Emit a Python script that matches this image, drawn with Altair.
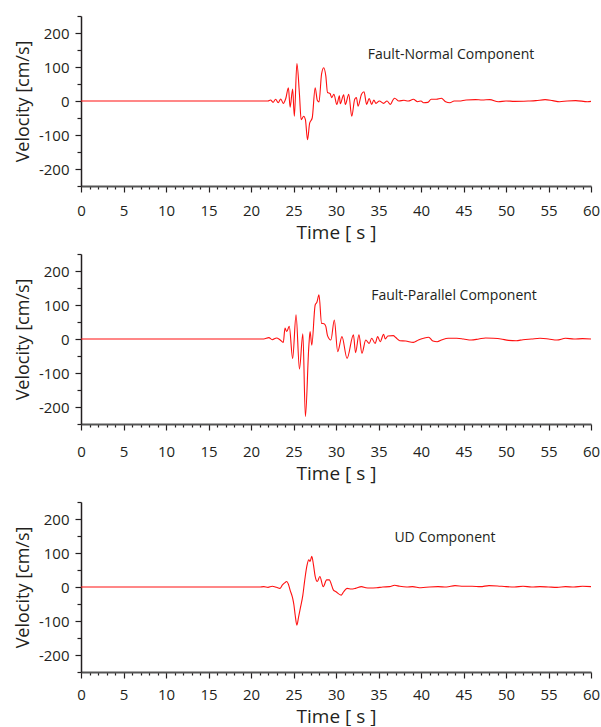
import altair as alt
import pandas as pd

# ---------------- data ----------------
FN_T = [0, 22.0, 22.3, 22.6, 22.9, 23.2, 23.5, 23.8, 24.1, 24.4, 24.6, 24.9, 25.1, 25.4, 25.7,
        25.9, 26.2, 26.4, 26.65, 26.9, 27.2, 27.55, 27.8, 28.0, 28.3, 28.55, 28.8, 29.0, 29.3,
        29.5, 29.75, 30.1, 30.4, 30.5, 30.9, 31.1, 31.5, 31.85, 32.2, 32.4, 32.6, 33.0, 33.3,
        33.6, 33.9, 34.2, 34.45, 34.7, 35.1, 35.6, 36.0, 36.4, 36.7, 36.9, 37.4, 38.0, 38.5,
        39.1, 39.6, 40.0, 40.3, 40.8, 41.2, 41.8, 42.4, 42.9, 43.4, 43.9, 44.5, 45.3, 46.4,
        47.2, 48.1, 49.1, 50.0, 51.0, 52.6, 53.5, 54.6, 55.5, 56.3, 57.2, 58.2, 59.6, 60]
FN_V = [0, 0, 3, -4, 5, -5, 6, -7, 8, 39, -18, 35, -45, 110, 20,
        -55, -45, -55, -114, -65, -50, 39, 2, -3, 79, 98, 74, 25, 22,
        10, 20, -10, 15, -8, 18, -10, 20, -45, 5, 10, -15, 20, 27,
        -10, 7, -10, 3, -7, 0, -7, 0, -10, 3, 8, 0, 2, 0,
        5, -2, 0, -5, -4, 5, 5, 8, -2, -5, 0, 0, 3, 4,
        3, 4, -2, 0, -1, 0, 1, 4, 1, -2, 0, 1, -2, -1]

FP_T = [0, 21.5, 22.1, 22.5, 23.0, 23.4, 23.8, 24.0, 24.2, 24.5, 24.9, 25.3, 25.7, 26.1, 26.4,
        26.8, 26.95, 27.15, 27.55, 27.75, 28.0, 28.3, 28.6, 28.8, 29.0, 29.4, 29.8, 30.2, 30.7,
        31.3, 32.05, 32.3, 32.7, 33.05, 33.5, 33.9, 34.2, 34.6, 34.9, 35.2, 35.6, 35.8, 36.1,
        36.75, 37.0, 37.5, 38.2, 39.1, 39.7, 40.3, 40.9, 41.4, 41.9, 42.5, 43.2, 44.2, 45.0,
        45.9, 46.8, 47.6, 48.5, 49.4, 50.3, 51.2, 52.0, 53.0, 54.0, 55.0, 56.0, 57.0, 58.0,
        59.0, 60]
FP_V = [0, 0, 4, -2, 3, -2, -10, 32, 22, 37, -57, 71, -88, 15, -228,
        -23, 22, -18, 100, 108, 130, 46, 45, 37, 10, -3, 56, -37, 7,
        -57, 12, -40, 12, -42, -3, -13, 2, -13, 7, -8, 14, 0, 9,
        10, 5, -5, -6, -10, -3, 2, 5, -6, -8, -2, 2, 2, 0,
        -3, 0, 3, 2, 0, -4, -5, -2, 0, 2, 0, -3, 2, 0,
        1, 0]

UD_T = [0, 21.0, 21.5, 22.0, 22.5, 23.0, 23.4, 23.7, 24.0, 24.2, 24.4, 24.6, 24.9, 25.05, 25.2,
        25.4, 25.6, 25.8, 26.1, 26.3, 26.6, 26.8, 26.95, 27.15, 27.35, 27.55, 27.8, 28.1, 28.5,
        28.9, 29.2, 29.7, 30.0, 30.6, 30.9, 31.3, 31.8, 32.3, 33.0, 33.5, 34.0, 34.8, 35.5,
        36.3, 36.9, 37.5, 38.3, 39.0, 40.0, 41.0, 42.0, 43.0, 44.0, 45.0, 46.0, 47.0, 48.0,
        49.0, 50.0, 51.0, 52.0, 53.0, 54.0, 55.0, 56.0, 57.0, 58.0, 59.0, 60]
UD_V = [0, 0, 1, -1, 2, -1, -4, 6, 13, 16, 8, -9, -33, -53, -83,
        -112, -88, -63, -24, 16, 65, 80, 75, 90, 65, 31, 16, 31, 1,
        21, 21, -9, -14, -24, -14, -4, -6, -4, 1, -2, -3, -2, 0,
        1, 5, 2, 0, 1, -2, 0, 1, 0, 4, 2, 2, 1, 4,
        3, 1, 0, 2, 0, 1, 0, -1, 1, 0, 2, 1]

LABELS = ["Fault-Normal Component", "Fault-Parallel Component", "UD Component"]
X_TICKS = list(range(0, 61))
Y_TICKS = list(range(-250, 251, 50))
X_TITLE = "Time [ s ]"
Y_TITLE = "Velocity [cm/s]"

TEXT = "#231f20"
FONT = "Open Sans"

W, H = 510, 170


def panel(t, v, label, lx, ly, label_pad):
    df = pd.DataFrame({"t": t, "v": v})
    line = alt.Chart(df).mark_line(color="#ff1010", strokeWidth=1.1, interpolate="monotone").encode(
        x=alt.X("t:Q",
                scale=alt.Scale(domain=[0, 60], nice=False, zero=False),
                axis=alt.Axis(values=X_TICKS, title=X_TITLE,
                              labelExpr="datum.value % 5 === 0 ? '' + datum.value : ''",
                              tickSize={"condition": {"test": "datum.value % 5 === 0", "value": 6}, "value": 3},
                              labelOverlap=False, labelFlush=False, grid=False,
                              domainColor="#555555", domainWidth=2,
                              labelPadding=label_pad, titlePadding=5, titleFontSize=19)),
        y=alt.Y("v:Q",
                scale=alt.Scale(domain=[-250, 250], nice=False, zero=False),
                axis=alt.Axis(values=Y_TICKS, title=Y_TITLE,
                              labelExpr="datum.value % 100 === 0 && abs(datum.value) < 250 ? '' + datum.value : ''",
                              tickSize={"condition": {"test": "datum.value % 100 === 0", "value": 6}, "value": 4},
                              labelOverlap=False, labelFlush=False, grid=False,
                              domainColor=TEXT, domainWidth=1.5,
                              labelPadding=6, titlePadding=6, titleFontSize=18)),
    )
    txt = alt.Chart(pd.DataFrame({"label": [label]})).mark_text(
        font=FONT, fontSize=14, color=TEXT, align="center", baseline="middle"
    ).encode(text="label:N", x=alt.value(lx), y=alt.value(ly))
    return alt.layer(line, txt).properties(width=W, height=H)


p1 = panel(FN_T, FN_V, LABELS[0], 370, 39, 11)
p2 = panel(FP_T, FP_V, LABELS[1], 373, 42, 14)
p3 = panel(UD_T, UD_V, LABELS[2], 364, 36, 9)

chart = alt.vconcat(alt.vconcat(p1, p2, spacing=5), p3, spacing=12).properties(
    padding={"left": 14, "top": 9, "right": 0, "bottom": 0}
).configure_view(stroke=None).configure_axis(
    labelFont=FONT, labelFontSize=15, labelColor=TEXT,
    titleFont=FONT, titleFontWeight="normal", titleColor=TEXT,
    tickColor=TEXT, tickWidth=1.2,
)

chart.save("out.html", embed_options={"renderer": "svg", "actions": False})
